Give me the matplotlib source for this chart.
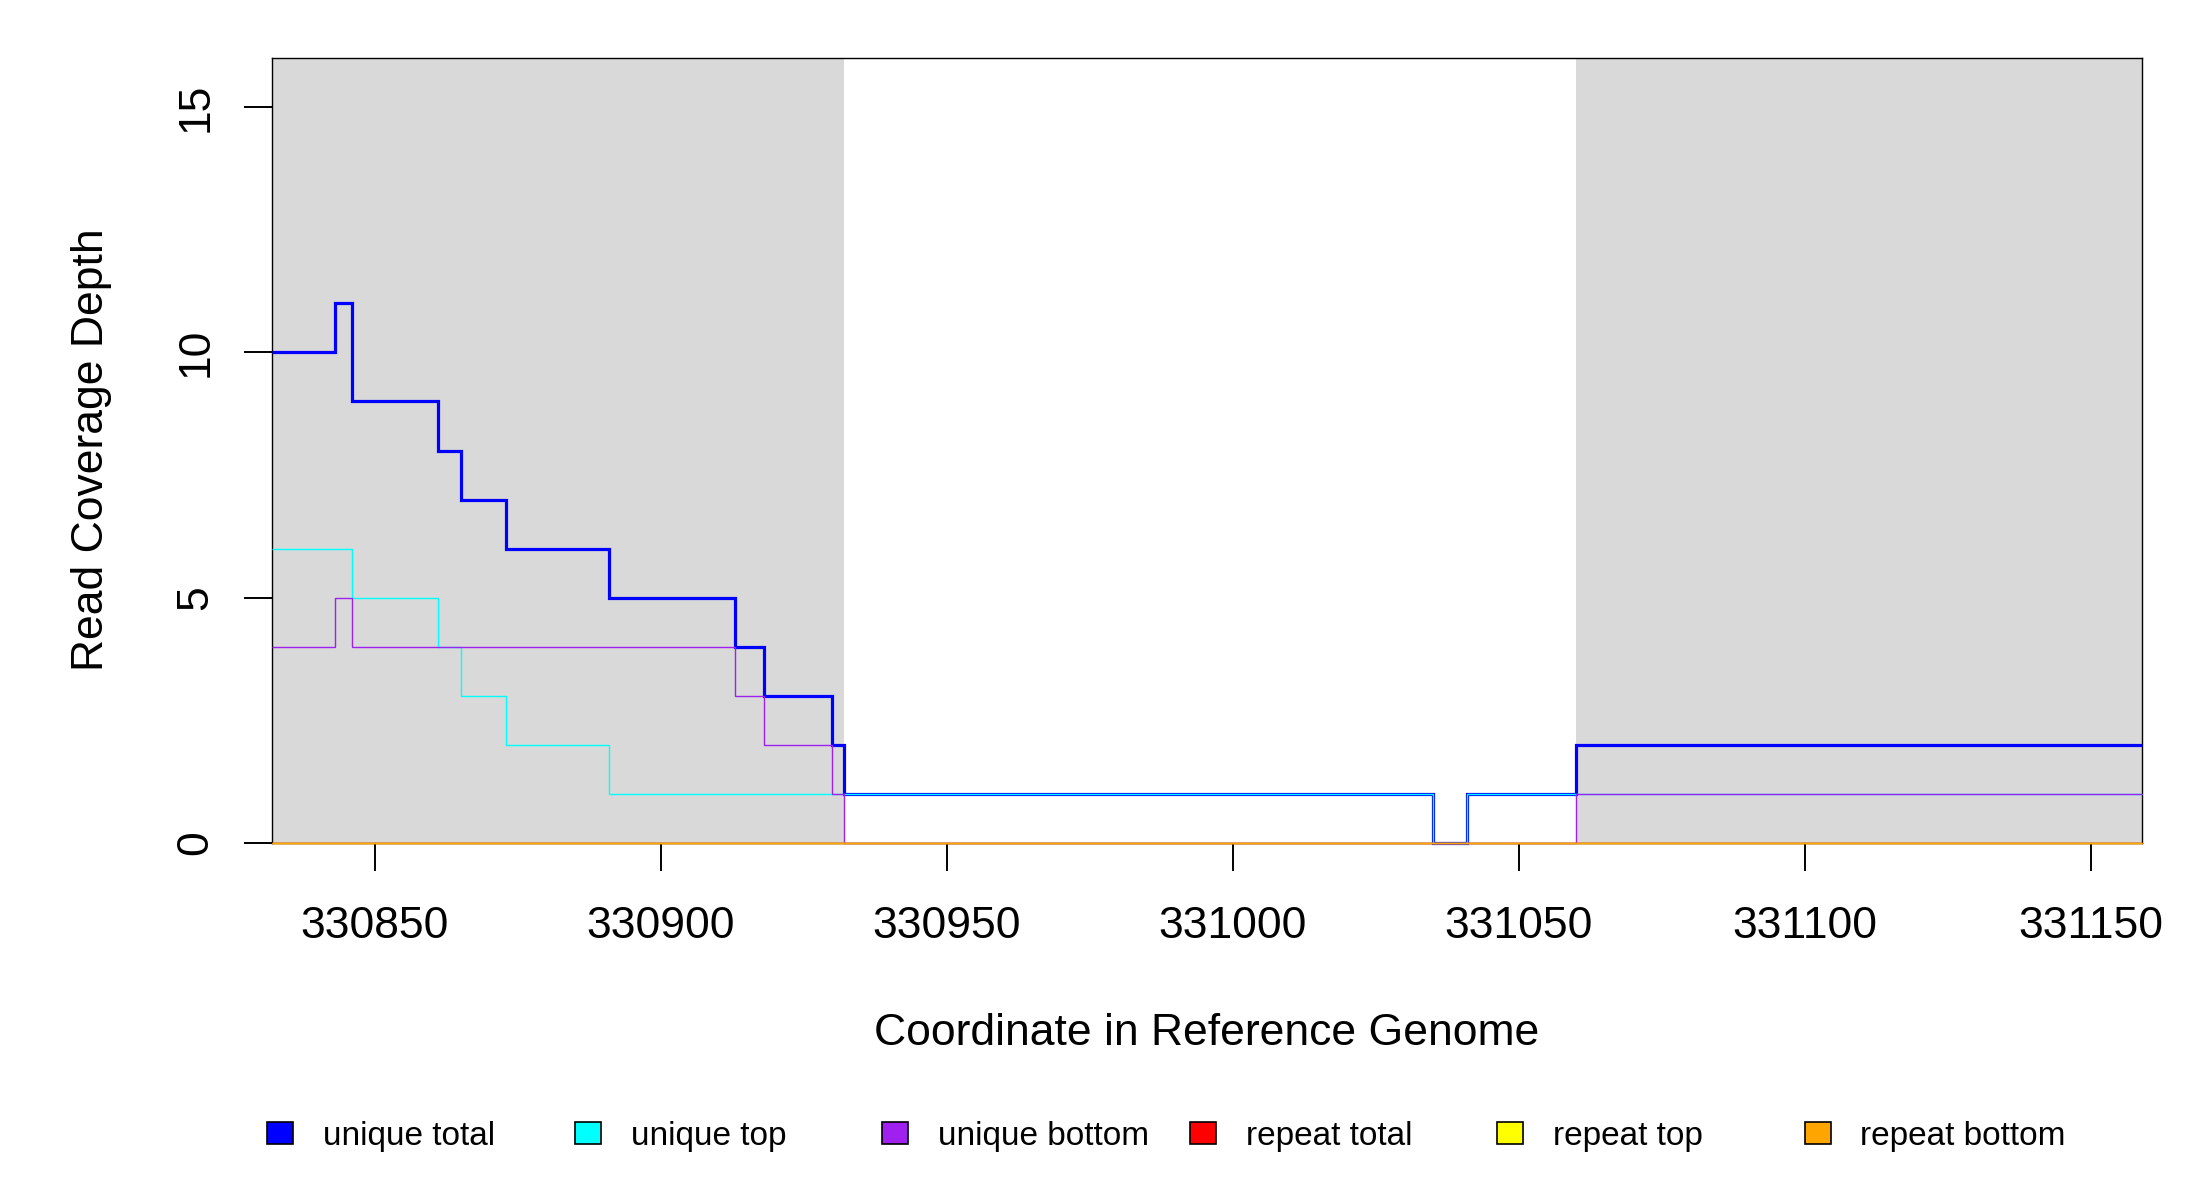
import matplotlib
matplotlib.use("Agg")
import matplotlib.pyplot as plt
from matplotlib.patches import Rectangle

plt.rcParams['font.family'] = ['Liberation Sans', 'DejaVu Sans']

# step edges (genome coordinate) and coverage per interval
edges = [330832, 330843, 330846, 330861, 330865, 330873, 330891, 330913,
         330918, 330930, 330932, 331035, 331041, 331060, 331159]
unique_total = [10, 11, 9, 8, 7, 6, 5, 4, 3, 2, 1, 0, 1, 2]
unique_top = [6, 6, 5, 4, 3, 2, 1, 1, 1, 1, 1, 0, 1, 1]
unique_bottom = [4, 5, 4, 4, 4, 4, 4, 3, 2, 1, 0, 0, 0, 1]
repeat_total = [0] * 14
repeat_top = [0] * 14
repeat_bottom = [0] * 14

# grey shaded regions (flanks)
shade_start = [330832, 331060]
shade_end = [330932, 331159]

x_ticks = [330850, 330900, 330950, 331000, 331050, 331100, 331150]
y_ticks = [0, 5, 10, 15]

labels = ['unique total', 'unique top', 'unique bottom',
          'repeat total', 'repeat top', 'repeat bottom']
colors = ['#0000FF', '#00FFFF', '#A020F0', '#FF0000', '#FFFF00', '#FFA500']
series = [unique_total, unique_top, unique_bottom,
          repeat_total, repeat_top, repeat_bottom]
widths = [2.3, 1.0, 1.0, 1.0, 1.0, 1.0]

W, H = 2200, 1200
fig = plt.figure(figsize=(22, 12), dpi=100)
ax = fig.add_axes([272 / W, 1 - 843 / H, (2142 - 272) / W, (843 - 58) / H])

for s, e in zip(shade_start, shade_end):
    ax.axvspan(s, e, color='#D9D9D9', lw=0, zorder=0)

for vals, col, lw in zip(series, colors, widths):
    ax.stairs(vals, edges, baseline=None, color=col, lw=lw, zorder=4,
              clip_on=False)

ax.set_xlim(330832, 331159)
ax.set_ylim(0, 16)
ax.set_xticks(x_ticks)
ax.set_xticklabels([str(t) for t in x_ticks])
ax.set_yticks(y_ticks)
ax.set_yticklabels([str(t) for t in y_ticks], rotation=90, va='center')
ax.tick_params(axis='both', length=20, width=1.4, labelsize=32, color='black')
ax.tick_params(axis='x', pad=25)
ax.tick_params(axis='y', pad=20)
for sp in ax.spines.values():
    sp.set_linewidth(1.0)
    sp.set_zorder(3)

fig.text(1207 / W, 1 - 1045 / H, 'Coordinate in Reference Genome', fontsize=32,
         ha='center', va='baseline')
fig.text(103 / W, 1 - 450 / H, 'Read Coverage Depth', fontsize=32, rotation=90,
         rotation_mode='anchor', ha='center', va='baseline')

# legend row along the bottom
for i, (lab, col) in enumerate(zip(labels, colors)):
    x0 = 267 + i * 307.5
    fig.patches.append(Rectangle((x0 / W, 1 - 1144 / H), 26 / W, 22 / H,
                                 transform=fig.transFigure, facecolor=col,
                                 edgecolor='black', lw=1.2))
    fig.text((x0 + 56) / W, 1 - 1133 / H, lab, fontsize=24,
             ha='left', va='center_baseline')

fig.savefig('out.png', dpi=100)
